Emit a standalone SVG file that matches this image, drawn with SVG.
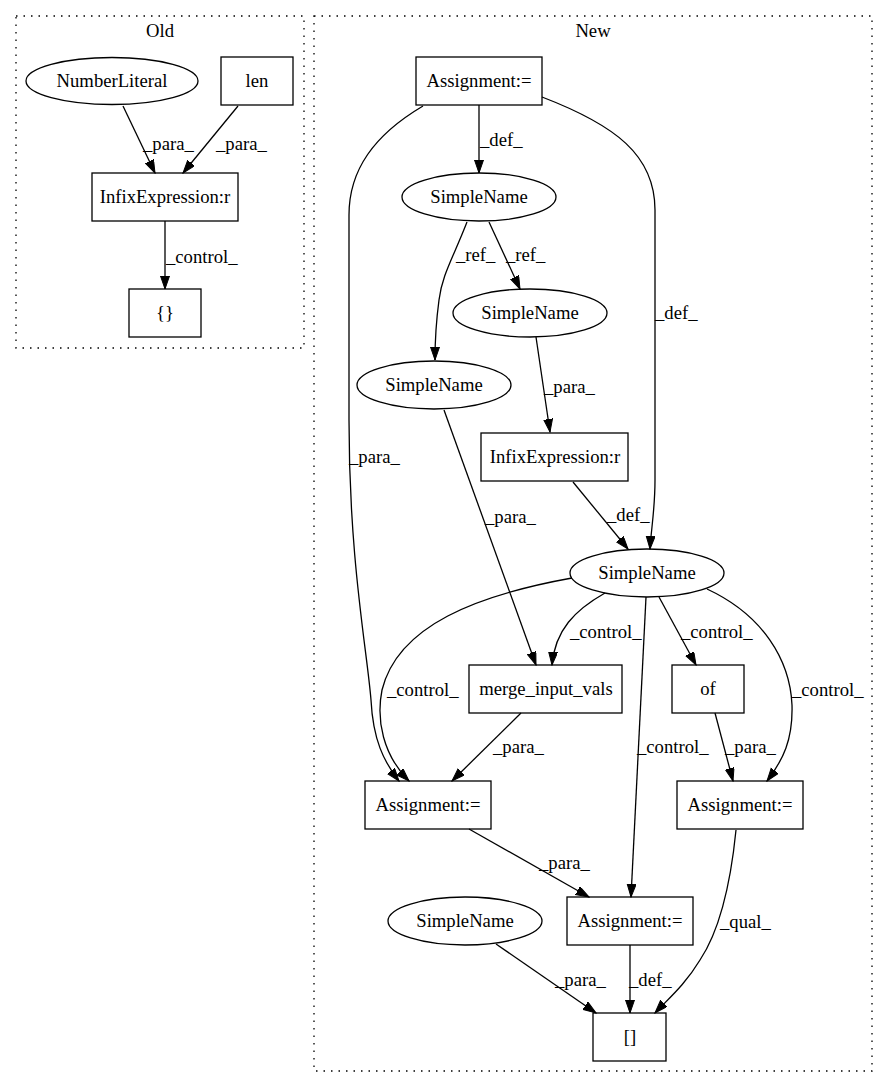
<svg xmlns="http://www.w3.org/2000/svg" width="888" height="1088" viewBox="0 0 888 1088">
<style>
text{font-family:"Liberation Serif","Times New Roman",serif;font-size:18.67px;fill:#000}
.n{text-anchor:middle}
.shape{fill:none;stroke:#000;stroke-width:1.3}
.cl{fill:none;stroke:#000;stroke-width:1.3;stroke-dasharray:1.5,6}
.e{fill:none;stroke:#000;stroke-width:1.3;marker-end:url(#ah)}
</style>
<defs>
<marker id="ah" markerUnits="userSpaceOnUse" markerWidth="14" markerHeight="10" refX="13" refY="4.5" orient="auto">
<path d="M0,0 L13,4.5 L0,9 z" fill="#000" stroke="#000" stroke-width="1"/>
</marker>
</defs>
<rect width="888" height="1088" fill="#fff"/>
<g id="cluster_old">
<rect class="cl" x="16" y="16" width="288" height="332"/>
<text class="n" x="160" y="37">Old</text>
</g>
<g id="cluster_new">
<rect class="cl" x="314" y="16" width="558" height="1055"/>
<text class="n" x="593" y="37">New</text>
</g>
<g id="connectors">
<path class="e" d="M123,106 L155,173"/>
<path class="e" d="M238,106 L183,173"/>
<path class="e" d="M165,221 L165,289"/>
<path class="e" d="M479,105 L479,173"/>
<path class="e" d="M489,222 L520,289"/>
<path class="e" d="M467,222 C453,258 442,275 439,300 C435,330 435,345 435,360"/>
<path class="e" d="M423,106 C374,135 349,170 349,215 L349,420 C349,560 367,650 371,700 C373,740 384,762 399,781"/>
<path class="e" d="M572,578 C478,595 398,625 382,690 C376,720 383,755 409,781"/>
<path class="e" d="M542,97 C615,125 655,155 655,210 L655,480 C655,510 651,530 650,549"/>
<path class="e" d="M536,337 L550,432"/>
<path class="e" d="M573,482 L628,549"/>
<path class="e" d="M444,410 L536,665"/>
<path class="e" d="M605,593 C575,610 555,630 552,665"/>
<path class="e" d="M659,597 L696,665"/>
<path class="e" d="M707,589 C763,615 790,660 792,705 C793,740 783,760 767,781"/>
<path class="e" d="M646,597 L631,897"/>
<path class="e" d="M521,713 L452,781"/>
<path class="e" d="M715,713 L733,781"/>
<path class="e" d="M469,829 L589,897"/>
<path class="e" d="M496,944 L596,1013"/>
<path class="e" d="M630,945 L630,1013"/>
<path class="e" d="M736,830 C731,880 720,930 700,960 C685,985 667,1000 655,1013"/>
<text x="143" y="150">_para_</text>
<text x="216" y="150">_para_</text>
<text x="166" y="263">_control_</text>
<text x="480" y="146">_def_</text>
<text x="456" y="261">_ref_</text>
<text x="506" y="261">_ref_</text>
<text x="655" y="319">_def_</text>
<text x="544" y="393">_para_</text>
<text x="349" y="463">_para_</text>
<text x="607" y="521">_def_</text>
<text x="485" y="523">_para_</text>
<text x="570" y="638">_control_</text>
<text x="681" y="638">_control_</text>
<text x="387" y="696">_control_</text>
<text x="792" y="696">_control_</text>
<text x="493" y="753">_para_</text>
<text x="637" y="753">_control_</text>
<text x="725" y="753">_para_</text>
<text x="539" y="869">_para_</text>
<text x="720" y="928">_qual_</text>
<text x="555" y="986">_para_</text>
<text x="629" y="986">_def_</text>
</g>
<g id="old_numberliteral"><ellipse class="shape" cx="112" cy="81" rx="86" ry="23.5"/><text class="n" x="112" y="87">NumberLiteral</text></g>
<g id="old_len"><rect class="shape" x="221" y="57" width="72" height="48"/><text class="n" x="257" y="87">len</text></g>
<g id="old_infix"><rect class="shape" x="92" y="173" width="146" height="48"/><text class="n" x="165" y="203">InfixExpression:r</text></g>
<g id="old_block"><rect class="shape" x="129" y="289" width="72" height="48"/><text class="n" x="165" y="319">{}</text></g>
<g id="new_assign_top"><rect class="shape" x="416" y="57" width="126" height="48"/><text class="n" x="479" y="87">Assignment:=</text></g>
<g id="new_sn1"><ellipse class="shape" cx="479" cy="197" rx="77" ry="24"/><text class="n" x="479" y="203">SimpleName</text></g>
<g id="new_sn2"><ellipse class="shape" cx="530" cy="313" rx="77" ry="24"/><text class="n" x="530" y="319">SimpleName</text></g>
<g id="new_sn3"><ellipse class="shape" cx="434" cy="385" rx="77" ry="24"/><text class="n" x="434" y="391">SimpleName</text></g>
<g id="new_infix"><rect class="shape" x="481" y="433" width="147" height="48"/><text class="n" x="555" y="463">InfixExpression:r</text></g>
<g id="new_sn4"><ellipse class="shape" cx="647" cy="573" rx="77" ry="24"/><text class="n" x="647" y="579">SimpleName</text></g>
<g id="new_merge"><rect class="shape" x="469" y="665" width="153" height="48"/><text class="n" x="546" y="695">merge_input_vals</text></g>
<g id="new_of"><rect class="shape" x="672" y="665" width="72" height="48"/><text class="n" x="708" y="695">of</text></g>
<g id="new_assign_left"><rect class="shape" x="365" y="781" width="126" height="48"/><text class="n" x="428" y="811">Assignment:=</text></g>
<g id="new_assign_right"><rect class="shape" x="677" y="781" width="126" height="48"/><text class="n" x="740" y="811">Assignment:=</text></g>
<g id="new_assign_bottom"><rect class="shape" x="567" y="897" width="126" height="48"/><text class="n" x="630" y="927">Assignment:=</text></g>
<g id="new_sn5"><ellipse class="shape" cx="465" cy="921" rx="77" ry="24"/><text class="n" x="465" y="927">SimpleName</text></g>
<g id="new_index"><rect class="shape" x="593" y="1013" width="73" height="48"/><text class="n" x="630" y="1043">[]</text></g>
</svg>
